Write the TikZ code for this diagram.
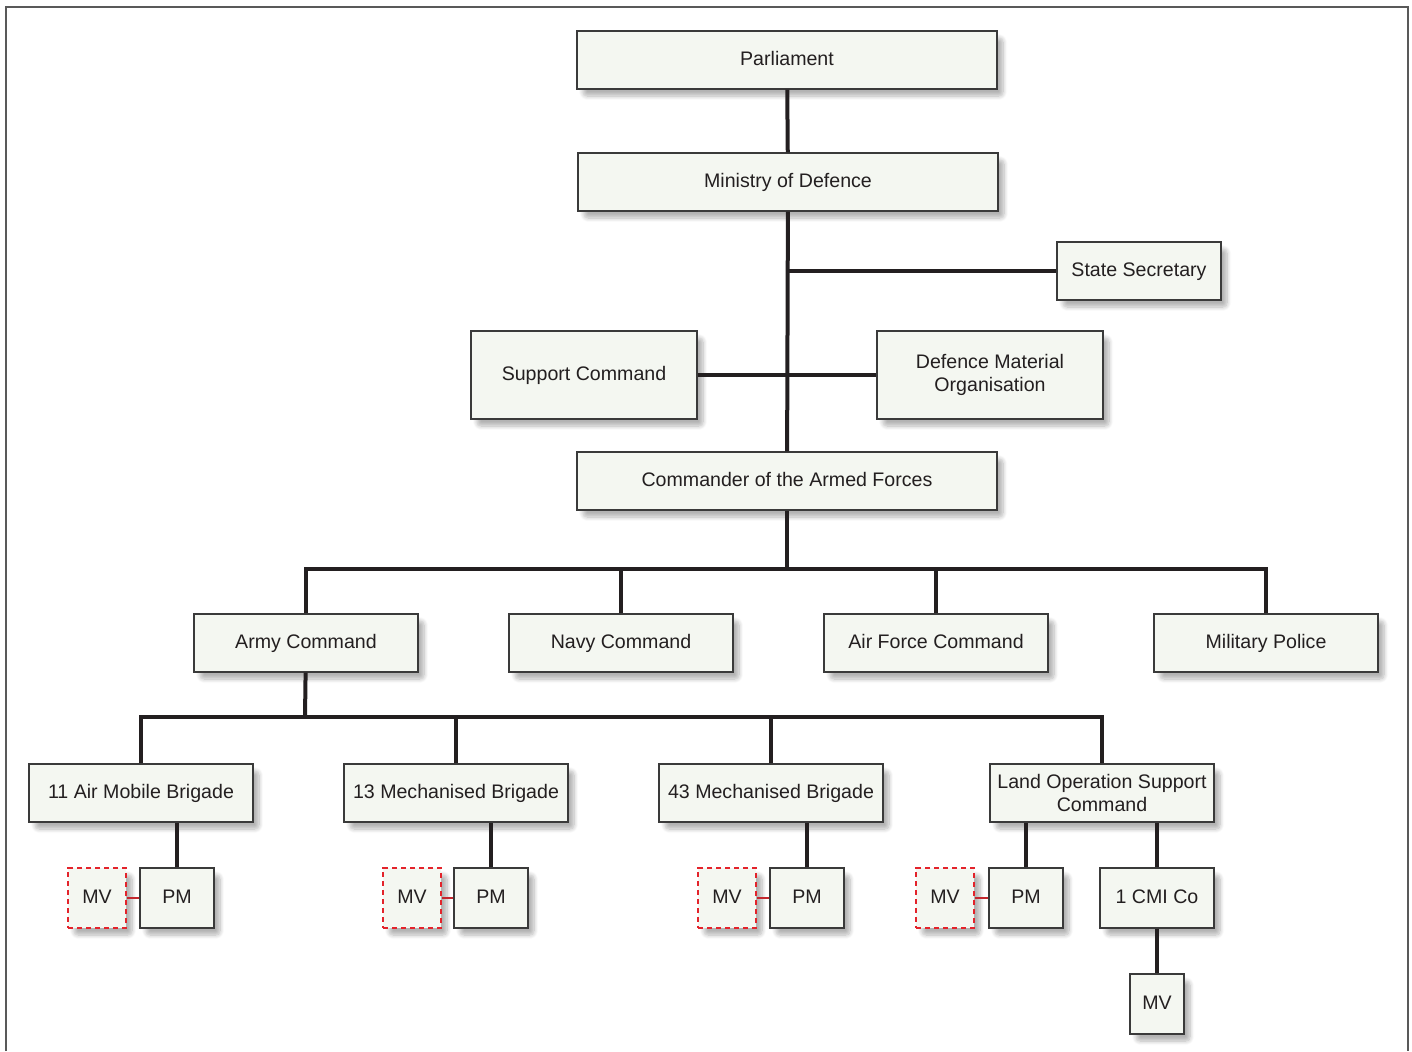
\documentclass[tikz,border=0pt]{standalone}
\usepackage{fontspec}
\setmainfont{Liberation Sans}
\usepackage{xcolor}
\usepackage{tikz}
\usetikzlibrary{shadows.blur}

\definecolor{boxfill}{HTML}{F4F7F1}
\definecolor{boxline}{HTML}{3A3A3A}
\definecolor{inkblack}{HTML}{231F20}
\definecolor{mvred}{HTML}{E3232B}
\definecolor{linkred}{HTML}{C4262E}

\begin{document}
\begin{tikzpicture}[
  x=0.5pt, y=-0.5pt,
  box/.style={draw=boxline, line width=0.7pt, fill=boxfill, align=center,
    inner sep=0pt, minimum height=29pt, text=inkblack,
    font=\fontsize{9.8}{11.6}\selectfont,
    blur shadow={shadow xshift=3pt, shadow yshift=-3.5pt, shadow blur steps=8,
      shadow blur extra rounding=2pt, shadow opacity=30}},
  unit/.style={box, text height=7.2pt, text depth=2.2pt},
  mvbox/.style={unit, draw=mvred, dash pattern=on 2.6pt off 1.9pt, line width=0.8pt,
    minimum width=29pt, minimum height=30pt},
  link/.style={draw=inkblack, line width=2pt},
  redlink/.style={draw=linkred, line width=1.4pt},
  frame/.style={draw=black!65, line width=1pt}
]
\useasboundingbox (0,0) rectangle (1412,1051);
\draw[frame] (6,1051) -- (6,7) -- (1408,7) -- (1408,1051);

% top of the chain
\node[unit, minimum width=210pt] (parl) at (787,60) {Parliament};
\node[unit, minimum width=210pt] (mod) at (788,182) {Ministry of Defence};
\node[unit, minimum width=82pt] (secr) at (1139,271) {State Secretary};
\node[unit, minimum width=113pt, minimum height=44pt] (supp) at (584,375) {Support Command};
\node[box, minimum width=113pt, minimum height=44pt] (dmo) at (990,375) {Defence Material\\Organisation};
\node[unit, minimum width=210pt] (cafs) at (787,481) {Commander of the Armed Forces};

% commands
\node[unit, minimum width=112pt] (army) at (306,643) {Army Command};
\node[unit, minimum width=112pt] (navy) at (621,643) {Navy Command};
\node[unit, minimum width=112pt] (air) at (936,643) {Air Force Command};
\node[unit, minimum width=112pt] (mp) at (1266,643) {Military Police};

% brigades
\node[unit, minimum width=112pt] (amb) at (141,793) {11 Air Mobile Brigade};
\node[unit, minimum width=112pt] (mb13) at (456,793) {13 Mechanised Brigade};
\node[unit, minimum width=112pt] (mb43) at (771,793) {43 Mechanised Brigade};
\node[box, minimum width=112pt] (loc) at (1102,793) {Land Operation Support\\Command};

% police units
\node[unit, minimum width=37pt, minimum height=30pt] (pma) at (177,898) {PM};
\node[mvbox] (mva) at (97,898) {MV};
\node[unit, minimum width=37pt, minimum height=30pt] (pmb) at (491,898) {PM};
\node[mvbox] (mvb) at (412,898) {MV};
\node[unit, minimum width=37pt, minimum height=30pt] (pmc) at (807,898) {PM};
\node[mvbox] (mvc) at (727,898) {MV};
\node[unit, minimum width=37pt, minimum height=30pt] (pmd) at (1026,898) {PM};
\node[mvbox] (mvd) at (945,898) {MV};
\node[unit, minimum width=57pt, minimum height=30pt] (cmi) at (1157,898) {1 CMI Co};
\node[unit, minimum width=27pt, minimum height=30pt] (mve) at (1157,1004) {MV};

\coordinate (busa) at (787,569);
\coordinate (busb) at (305,717);

% connectors
\draw[link] (parl) -- (mod);
\draw[link] (mod) -- (cafs);
\draw[link] (secr.west) -- (secr.west -| mod.south);
\draw[link] (supp) -- (dmo);
\draw[link] (cafs) -- (busa);
\draw[link] (army.north) |- (busa);
\draw[link] (navy.north) |- (busa);
\draw[link] (air.north) |- (busa);
\draw[link] (mp.north) |- (busa);
\draw[link] (army) -- (busb);
\draw[link] (amb.north) |- (busb);
\draw[link] (mb13.north) |- (busb);
\draw[link] (mb43.north) |- (busb);
\draw[link] (loc.north) |- (busb);
\draw[link] (pma.north) -- (pma.north |- amb.south);
\draw[link] (pmb.north) -- (pmb.north |- mb13.south);
\draw[link] (pmc.north) -- (pmc.north |- mb43.south);
\draw[link] (pmd.north) -- (pmd.north |- loc.south);
\draw[link] (cmi.north) -- (cmi.north |- loc.south);
\draw[link] (cmi) -- (mve);
\draw[redlink] (mva) -- (pma);
\draw[redlink] (mvb) -- (pmb);
\draw[redlink] (mvc) -- (pmc);
\draw[redlink] (mvd) -- (pmd);
\end{tikzpicture}
\end{document}
